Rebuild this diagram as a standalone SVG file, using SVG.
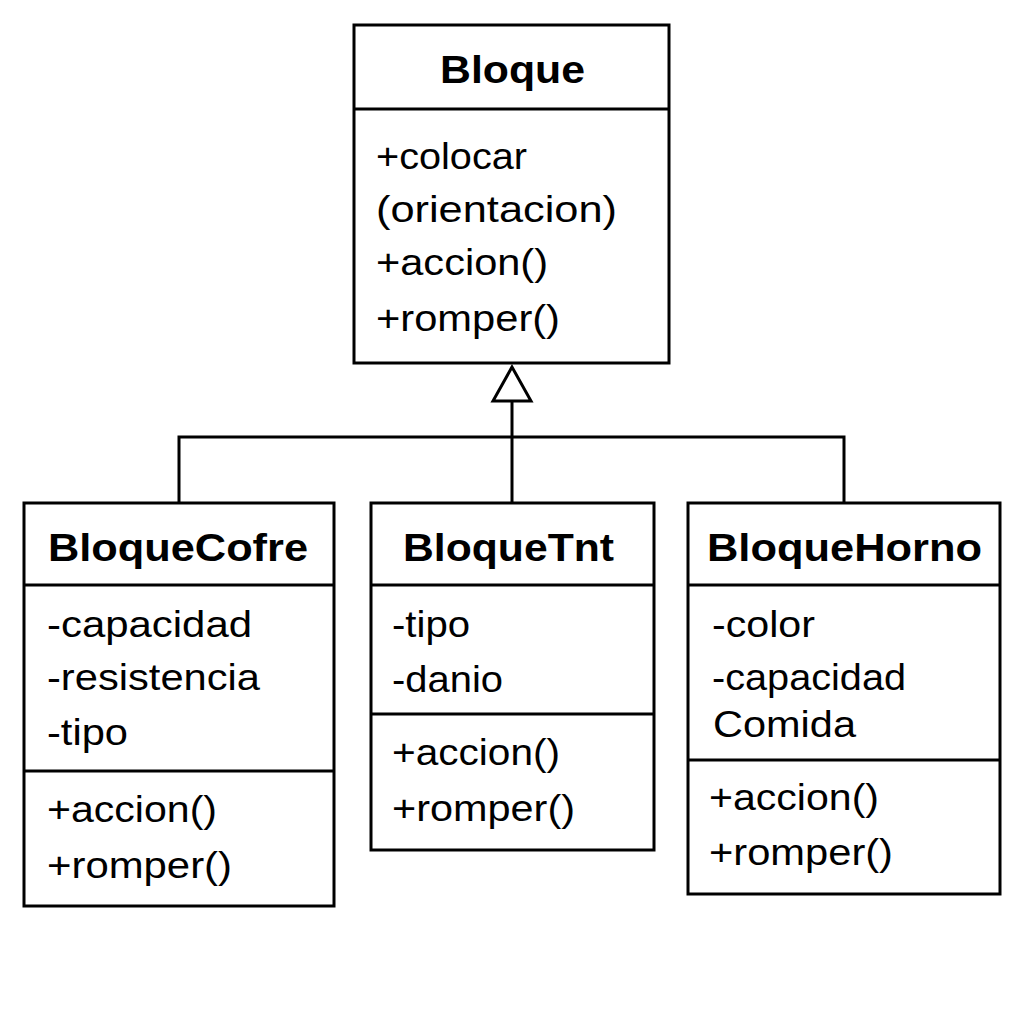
<svg xmlns="http://www.w3.org/2000/svg" width="1024" height="1024" viewBox="0 0 1024 1024">
<style>
.box{fill:#fff;stroke:#000;stroke-width:3}
.div{stroke:#000;stroke-width:3;fill:none}
.t{font-family:"Liberation Sans",Arial,sans-serif;font-size:38px;font-weight:bold;fill:#000}
.m{font-family:"Liberation Sans",Arial,sans-serif;font-size:37px;fill:#000}
.c{stroke:#000;stroke-width:3;fill:none}
.tri{fill:#fff;stroke:#000;stroke-width:3;stroke-linejoin:miter}
</style>
<rect width="1024" height="1024" fill="#fff"/>
<g id="connectors">
<polyline class="c" points="179,502 179,437 844,437 844,502"/>
<line class="c" x1="512" y1="502" x2="512" y2="401"/>
<polygon class="tri" points="512,367 493,401 531,401"/>
</g>
<g id="Bloque">
<rect class="box" x="354" y="25" width="315" height="338"/>
<line class="div" x1="354" y1="109" x2="669" y2="109"/>
<text class="t" x="440" y="83" textLength="145" lengthAdjust="spacingAndGlyphs">Bloque</text>
<text class="m" x="376" y="169" textLength="151" lengthAdjust="spacingAndGlyphs">+colocar</text>
<text class="m" x="376" y="222" textLength="241" lengthAdjust="spacingAndGlyphs">(orientacion)</text>
<text class="m" x="376" y="275" textLength="172" lengthAdjust="spacingAndGlyphs">+accion()</text>
<text class="m" x="376" y="331" textLength="184" lengthAdjust="spacingAndGlyphs">+romper()</text>
</g>
<g id="BloqueCofre">
<rect class="box" x="24" y="503" width="310" height="403"/>
<line class="div" x1="24" y1="585" x2="334" y2="585"/>
<line class="div" x1="24" y1="771" x2="334" y2="771"/>
<text class="t" x="48" y="561" textLength="260" lengthAdjust="spacingAndGlyphs">BloqueCofre</text>
<text class="m" x="47" y="637" textLength="205" lengthAdjust="spacingAndGlyphs">-capacidad</text>
<text class="m" x="47" y="690" textLength="213" lengthAdjust="spacingAndGlyphs">-resistencia</text>
<text class="m" x="47" y="745" textLength="81" lengthAdjust="spacingAndGlyphs">-tipo</text>
<text class="m" x="47" y="822" textLength="170" lengthAdjust="spacingAndGlyphs">+accion()</text>
<text class="m" x="47" y="878" textLength="185" lengthAdjust="spacingAndGlyphs">+romper()</text>
</g>
<g id="BloqueTnt">
<rect class="box" x="371" y="503" width="283" height="347"/>
<line class="div" x1="371" y1="585" x2="654" y2="585"/>
<line class="div" x1="371" y1="714" x2="654" y2="714"/>
<text class="t" x="403" y="561" textLength="211" lengthAdjust="spacingAndGlyphs">BloqueTnt</text>
<text class="m" x="392" y="637" textLength="78" lengthAdjust="spacingAndGlyphs">-tipo</text>
<text class="m" x="392" y="692" textLength="111" lengthAdjust="spacingAndGlyphs">-danio</text>
<text class="m" x="392" y="765" textLength="168" lengthAdjust="spacingAndGlyphs">+accion()</text>
<text class="m" x="392" y="821" textLength="183" lengthAdjust="spacingAndGlyphs">+romper()</text>
</g>
<g id="BloqueHorno">
<rect class="box" x="688" y="503" width="312" height="391"/>
<line class="div" x1="688" y1="585" x2="1000" y2="585"/>
<line class="div" x1="688" y1="760" x2="1000" y2="760"/>
<text class="t" x="707" y="561" textLength="275" lengthAdjust="spacingAndGlyphs">BloqueHorno</text>
<text class="m" x="712" y="637" textLength="103" lengthAdjust="spacingAndGlyphs">-color</text>
<text class="m" x="712" y="690" textLength="194" lengthAdjust="spacingAndGlyphs">-capacidad</text>
<text class="m" x="713" y="737" textLength="143" lengthAdjust="spacingAndGlyphs">Comida</text>
<text class="m" x="709" y="810" textLength="170" lengthAdjust="spacingAndGlyphs">+accion()</text>
<text class="m" x="709" y="865" textLength="184" lengthAdjust="spacingAndGlyphs">+romper()</text>
</g>
</svg>
